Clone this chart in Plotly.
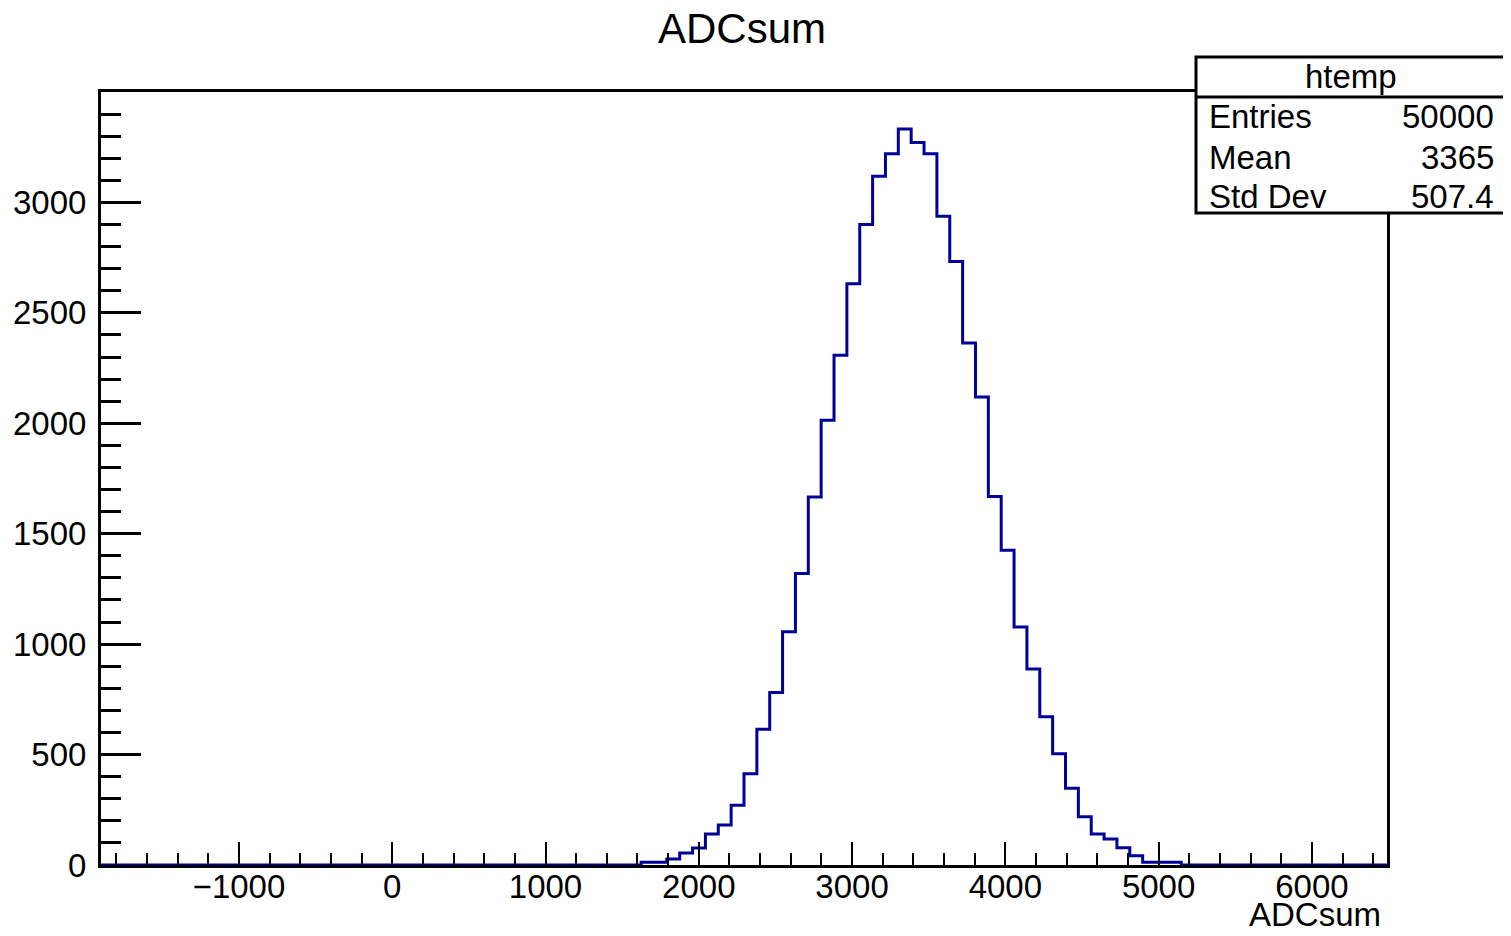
import plotly.graph_objects as go

# ---------------- data ----------------
N_BINS = 100
X_MIN = -1900.0
X_MAX = 6490.0
FIRST_BIN = 42
COUNTS = [12, 12, 27, 54, 77, 140, 181, 270, 413, 615, 781, 1056, 1320, 1666,
          2014, 2308, 2632, 2900, 3118, 3220, 3333, 3271, 3220, 2937, 2733, 2364,
          2119, 1668, 1425, 1078, 888, 671, 504, 348, 219, 140, 118, 78, 42, 12,
          12, 12]
X_TICKS = [-1000, 0, 1000, 2000, 3000, 4000, 5000, 6000]
Y_TICKS = [0, 500, 1000, 1500, 2000, 2500, 3000]
Y_MAX = 3500
TITLE = "ADCsum"
X_TITLE = "ADCsum"
STATS_NAME = "htemp"
STATS_LABELS = ["Entries", "Mean", "Std Dev"]
STATS_VALUES = ["50000", "3365", "507.4"]

# ---------------- build histogram outline ----------------
width = (X_MAX - X_MIN) / N_BINS
contents = [0] * N_BINS
for i, c in enumerate(COUNTS):
    contents[FIRST_BIN + i] = c
edges = [X_MIN + i * width for i in range(N_BINS + 1)]
xs = edges
ys = contents + [contents[-1]]

# page body has an 8px margin; compensate so the figure lands where intended
OFF = 8
W, H = 1511 - 2 * OFF, 936 - 2 * OFF
SL, SR, ST, SB = 101, 1387, 92, 865  # plot-area edges in screen pixels
L, R, T, B = SL - OFF, SR - OFF, ST - OFF, SB - OFF


def px(xs_):
    return (xs_ - SL) / (SR - SL)


def py(ys_):
    return (SB - ys_) / (SB - ST)


FONT = "Liberation Sans, Arial, Helvetica, sans-serif"

fig = go.Figure()
fig.add_trace(go.Scatter(x=xs, y=ys, mode="lines", line=dict(color="#000099", width=3, shape="hv"),
                         hoverinfo="skip", showlegend=False))

fig.update_layout(
    width=W, height=H, autosize=False,
    margin=dict(l=L, r=W - R, t=T, b=H - B, pad=0, autoexpand=False),
    paper_bgcolor="white", plot_bgcolor="white",
    font=dict(family=FONT, size=32, color="black"),
    showlegend=False,
)

fig.update_xaxes(
    range=[X_MIN, X_MAX], showgrid=False, zeroline=False, automargin=False,
    showline=True, linecolor="black", linewidth=3, mirror=True,
    ticks="inside", ticklen=23, tickwidth=2, tickcolor="black",
    tickvals=X_TICKS, ticktext=[("\u2212" + str(-v)) if v < 0 else str(v) for v in X_TICKS],
    tickfont=dict(family=FONT, size=33, color="black"),
    ticklabelstandoff=-10,
    minor=dict(ticks="inside", ticklen=12, tickwidth=2, tickcolor="black", dtick=200, tick0=0, showgrid=False),
)
fig.update_yaxes(
    range=[0, Y_MAX], showgrid=False, zeroline=False, automargin=False,
    showline=True, linecolor="black", linewidth=3, mirror=True,
    ticks="inside", ticklen=40, tickwidth=2.5, tickcolor="black",
    tickvals=Y_TICKS, ticktext=[str(v) for v in Y_TICKS],
    tickfont=dict(family=FONT, size=33, color="black"),
    ticklabelstandoff=5,
    minor=dict(ticks="inside", ticklen=20, tickwidth=2.5, tickcolor="black", dtick=100, tick0=0, showgrid=False),
)

# title
fig.add_annotation(text=TITLE, xref="paper", yref="paper", x=px(742), y=py(28),
                   xanchor="center", yanchor="middle", showarrow=False,
                   font=dict(family=FONT, size=42, color="black"))
# x axis title
fig.add_annotation(text=X_TITLE, xref="paper", yref="paper", x=px(1383), y=py(914),
                   xanchor="right", yanchor="middle", showarrow=False,
                   font=dict(family=FONT, size=33, color="black"))

# stats box
fig.add_shape(type="rect", xref="paper", yref="paper", x0=px(1196), x1=px(1525),
              y0=py(213), y1=py(57), fillcolor="white", line=dict(color="black", width=3), layer="above")
fig.add_shape(type="line", xref="paper", yref="paper", x0=px(1196), x1=px(1525),
              y0=py(97), y1=py(97), line=dict(color="black", width=3), layer="above")
fig.add_annotation(text=STATS_NAME, xref="paper", yref="paper", x=px(1351), y=py(77),
                   xanchor="center", yanchor="middle", showarrow=False,
                   font=dict(family=FONT, size=33, color="black"))
row_y = [117, 157, 196]
for lab, val, yy in zip(STATS_LABELS, STATS_VALUES, row_y):
    fig.add_annotation(text=lab, xref="paper", yref="paper", x=px(1207), y=py(yy),
                       xanchor="left", yanchor="middle", showarrow=False,
                       font=dict(family=FONT, size=33, color="black"))
    fig.add_annotation(text=val, xref="paper", yref="paper", x=px(1496), y=py(yy),
                       xanchor="right", yanchor="middle", showarrow=False,
                       font=dict(family=FONT, size=33, color="black"))

fig.write_html("out.html")
